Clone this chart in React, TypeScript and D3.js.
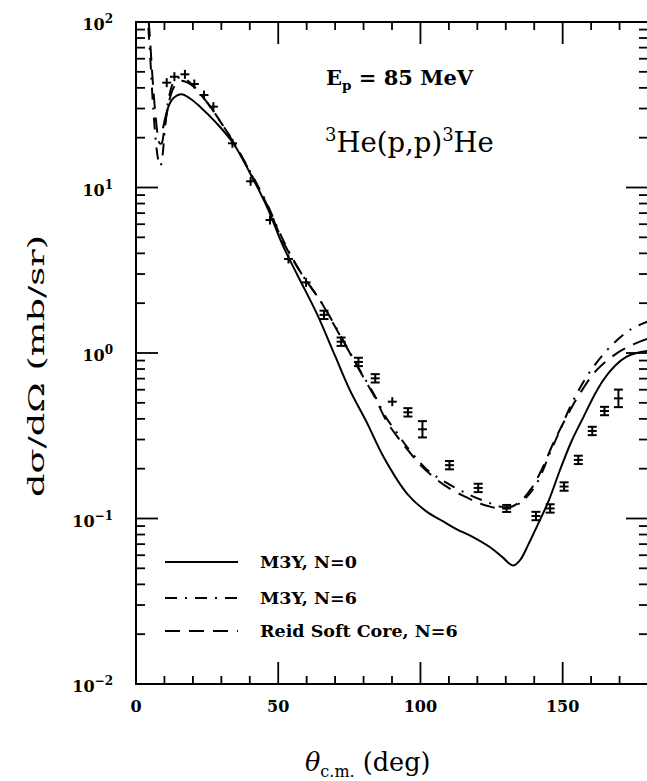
import React, { useEffect, useRef } from "react";
import * as d3 from "d3";

// measured cross sections (mb/sr)
const dataTheta = [10.8, 13.5, 17.2, 20.5, 23.9, 27.2, 33.9, 40.3, 47.1, 53.6, 59.8, 66.1, 72.1, 78.2, 84.1, 90.1, 95.6, 100.7, 110.2, 120.3, 130.3, 140.6, 145.6, 150.5, 155.5, 160.4, 164.7, 169.6];
const dataValue = [43, 46.7, 48.3, 42.2, 36.2, 30.8, 18.5, 10.9, 6.36, 3.7, 2.67, 1.7, 1.17, 0.883, 0.703, 0.508, 0.438, 0.346, 0.21, 0.153, 0.115, 0.1035, 0.115, 0.156, 0.226, 0.338, 0.446, 0.532];
const dataErr = [0, 0, 0, 0, 0, 0, 0, 0, 0, 0, 0, 0.06, 0.06, 0.06, 0.06, 0, 0.06, 0.12, 0.06, 0.06, 0.05, 0.06, 0.06, 0.06, 0.06, 0.06, 0.06, 0.13];

// M3Y, N=0 (solid)
const m3y0Theta = [9.5, 11.4, 13.1, 16, 19, 22.5, 28.4, 34.2, 40.1, 46, 51.8, 57, 63.5, 70, 75.2, 81, 87, 95.2, 102.2, 108, 112.8, 118, 124.5, 129, 132.5, 135, 138, 141, 145, 149, 153, 157.3, 161, 164.3, 168.5, 172.5, 176, 180];
const m3y0Value = [22.8, 30.8, 34.6, 36.6, 34.5, 30.8, 24.4, 18.5, 12.2, 7.66, 4.39, 2.9, 1.74, 0.96, 0.597, 0.385, 0.236, 0.142, 0.11, 0.096, 0.086, 0.078, 0.067, 0.058, 0.052, 0.056, 0.07, 0.09, 0.127, 0.195, 0.29, 0.41, 0.55, 0.687, 0.84, 0.95, 1.0, 1.03];

// M3Y, N=6 (dash-dot)
const m3y6Theta = [3.6, 4.2, 4.8, 5.3, 5.8, 6.4, 7.1, 7.9, 8.6, 9.3, 10, 10.8, 11.7, 13, 15, 17, 19, 22, 26, 30, 34, 40, 46, 52, 58, 64.7, 69.4, 74.1, 79.8, 84, 87.8, 91.7, 95.2, 102.2, 107, 112.4, 118, 123.3, 128, 131, 134, 137, 140.9, 145.6, 149.1, 153.8, 159.6, 166.7, 173.7, 180];
const m3y6Value = [140, 100, 70, 50, 35, 25, 18, 14.5, 13.5, 15.5, 21, 29, 36, 42.5, 46, 45.5, 43, 38, 31, 24.5, 19.2, 12.6, 8.0, 4.7, 3.05, 2.08, 1.52, 1.09, 0.73, 0.55, 0.41, 0.33, 0.272, 0.198, 0.173, 0.153, 0.137, 0.126, 0.118, 0.117, 0.121, 0.133, 0.163, 0.25, 0.343, 0.52, 0.77, 1.09, 1.38, 1.55];

// Reid Soft Core, N=6 (dashed)
const reidTheta = [3.8, 4.4, 5.0, 5.6, 6.2, 6.9, 7.6, 8.3, 9.0, 9.7, 10.7, 11.8, 13.2, 15.5, 17.5, 20, 23, 26, 30, 34, 40, 46, 52, 58, 64.7, 69.4, 74.1, 79.8, 84, 88, 92, 95.5, 100, 105.7, 111, 116.3, 120.5, 124.5, 128, 131, 135, 139, 142.5, 146.7, 151.4, 156.1, 162, 169, 175, 180];
const reidValue = [140, 105, 75, 52, 37, 27, 21, 18.5, 18.5, 21, 27, 34, 40, 44, 43.5, 41, 36, 31, 24.5, 19, 12.5, 7.9, 4.6, 3.05, 2.08, 1.5, 1.08, 0.72, 0.54, 0.39, 0.31, 0.26, 0.21, 0.172, 0.149, 0.134, 0.124, 0.118, 0.115, 0.116, 0.126, 0.152, 0.195, 0.285, 0.412, 0.571, 0.79, 0.995, 1.13, 1.22];

const xTicks = [0, 50, 100, 150];
const yExponents = [-2, -1, 0, 1, 2];
const legendLabels = ["M3Y, N=0", "M3Y, N=6", "Reid Soft Core, N=6"];

const W = 647, H = 781;
const L = 136, R = 648, T = 22, B = 684;
const serif = "'DejaVu Serif', serif";

const App = () => {
  const ref = useRef<SVGSVGElement>(null);

  useEffect(() => {
    const svg = d3.select(ref.current);
    svg.selectAll("*").remove();

    const x = d3.scaleLinear().domain([0, 180]).range([L, R]);
    const y = d3.scaleLog().domain([0.01, 100]).range([B, T]);

    svg.append("clipPath").attr("id", "plot")
      .append("rect").attr("x", L).attr("y", T).attr("width", R - L).attr("height", B - T);

    // frame
    svg.append("rect").attr("x", L).attr("y", T).attr("width", R - L).attr("height", B - T)
      .attr("fill", "none").attr("stroke", "#000").attr("stroke-width", 2);

    const ticks = svg.append("g").attr("stroke", "#000").attr("stroke-width", 1.8);
    d3.range(10, 180, 10).forEach(t => {
      const len = t % 50 === 0 ? 22 : 8;
      ticks.append("line").attr("x1", x(t)).attr("x2", x(t)).attr("y1", B).attr("y2", B - len);
      ticks.append("line").attr("x1", x(t)).attr("x2", x(t)).attr("y1", T).attr("y2", T + len);
    });
    yExponents.forEach(k => {
      if (k < 2) {
        d3.range(2, 10).forEach(m => {
          const v = m * Math.pow(10, k);
          ticks.append("line").attr("x1", L).attr("x2", L + 9).attr("y1", y(v)).attr("y2", y(v));
          ticks.append("line").attr("x1", R).attr("x2", R - 9).attr("y1", y(v)).attr("y2", y(v));
        });
      }
      if (k > -2 && k < 2) {
        const v = Math.pow(10, k);
        ticks.append("line").attr("x1", L).attr("x2", L + 22).attr("y1", y(v)).attr("y2", y(v));
        ticks.append("line").attr("x1", R).attr("x2", R - 22).attr("y1", y(v)).attr("y2", y(v));
      }
    });

    // tick labels
    svg.append("g").selectAll("text").data(xTicks).enter().append("text")
      .attr("x", d => x(d)).attr("y", 712).attr("text-anchor", "middle")
      .attr("font-family", serif).attr("font-weight", "bold").attr("font-size", 16)
      .text(d => d);

    yExponents.forEach(k => {
      const t = svg.append("text").attr("x", 113).attr("y", y(Math.pow(10, k)) + 8)
        .attr("text-anchor", "end").attr("font-family", serif).attr("font-weight", "bold").attr("font-size", 16);
      t.append("tspan").text("10");
      t.append("tspan").attr("dy", -7).attr("font-size", 12).text(k < 0 ? "\u2212" + (-k) : String(k));
    });

    // axis titles
    svg.append("text").attr("transform", `translate(44,${366}) rotate(-90)`)
      .attr("text-anchor", "middle").attr("font-family", serif).attr("font-size", 23)
      .attr("textLength", 262).attr("lengthAdjust", "spacingAndGlyphs")
      .text("d\u03c3/d\u03a9 (mb/sr)");

    const xt = svg.append("text").attr("x", 305).attr("y", 771)
      .attr("font-family", serif).attr("font-size", 25.5);
    xt.append("tspan").attr("font-style", "italic").text("\u03b8");
    xt.append("tspan").attr("dy", 6).attr("font-size", 16).text("c.m.");
    xt.append("tspan").attr("dy", -6).text(" (deg)");

    // annotations
    const ep = svg.append("text").attr("x", 326).attr("y", 85)
      .attr("font-family", serif).attr("font-weight", "bold").attr("font-size", 21);
    ep.append("tspan").text("E");
    ep.append("tspan").attr("dy", 5).attr("font-size", 13.5).text("p");
    ep.append("tspan").attr("dy", -5).text(" = 85 MeV");

    const rx = svg.append("text").attr("x", 325).attr("y", 152)
      .attr("font-family", serif).attr("font-size", 27.5);
    rx.append("tspan").attr("dy", -11).attr("font-size", 18).text("3");
    rx.append("tspan").attr("dy", 11).text("He(p,p)");
    rx.append("tspan").attr("dy", -11).attr("font-size", 18).text("3");
    rx.append("tspan").attr("dy", 11).text("He");

    // curves
    const line = d3.line<[number, number]>()
      .x(d => x(d[0])).y(d => y(d[1]))
      .curve(d3.curveCatmullRom.alpha(0.5));
    const curves = [
      { th: m3y0Theta, v: m3y0Value, dash: null },
      { th: m3y6Theta, v: m3y6Value, dash: "12,8,2,8" },
      { th: reidTheta, v: reidValue, dash: "15,9" },
    ];
    const plot = svg.append("g").attr("clip-path", "url(#plot)");
    curves.forEach(c => {
      plot.append("path")
        .attr("d", line(c.th.map((t, i) => [t, c.v[i]] as [number, number])))
        .attr("fill", "none").attr("stroke", "#000").attr("stroke-width", 2)
        .attr("stroke-dasharray", c.dash);
    });

    // data points
    const pts = plot.append("g").attr("stroke", "#000").attr("stroke-width", 2);
    dataTheta.forEach((t, i) => {
      const cx = x(t), cy = y(dataValue[i]), e = dataErr[i];
      pts.append("line").attr("x1", cx - 4.5).attr("x2", cx + 4.5).attr("y1", cy).attr("y2", cy);
      if (e === 0) {
        pts.append("line").attr("x1", cx).attr("x2", cx).attr("y1", cy - 4.5).attr("y2", cy + 4.5);
      } else {
        const y0 = y(dataValue[i] * (1 + e)), y1 = y(dataValue[i] / (1 + e));
        pts.append("line").attr("x1", cx).attr("x2", cx).attr("y1", y0).attr("y2", y1);
        pts.append("line").attr("x1", cx - 4.5).attr("x2", cx + 4.5).attr("y1", y0).attr("y2", y0);
        pts.append("line").attr("x1", cx - 4.5).attr("x2", cx + 4.5).attr("y1", y1).attr("y2", y1);
      }
    });

    // legend
    const legY = [562, 598, 631];
    legendLabels.forEach((lab, i) => {
      svg.append("line").attr("x1", 165).attr("x2", 238).attr("y1", legY[i]).attr("y2", legY[i])
        .attr("stroke", "#000").attr("stroke-width", 2)
        .attr("stroke-dasharray", curves[i].dash);
      svg.append("text").attr("x", 260).attr("y", legY[i] + 6)
        .attr("font-family", serif).attr("font-weight", "bold").attr("font-size", 17.5)
        .text(lab);
    });
  }, []);

  return (
    <svg ref={ref} width={W} height={H}
      style={{ position: "absolute", left: 0, top: 0, background: "#fff" }} />
  );
};

export default App;
